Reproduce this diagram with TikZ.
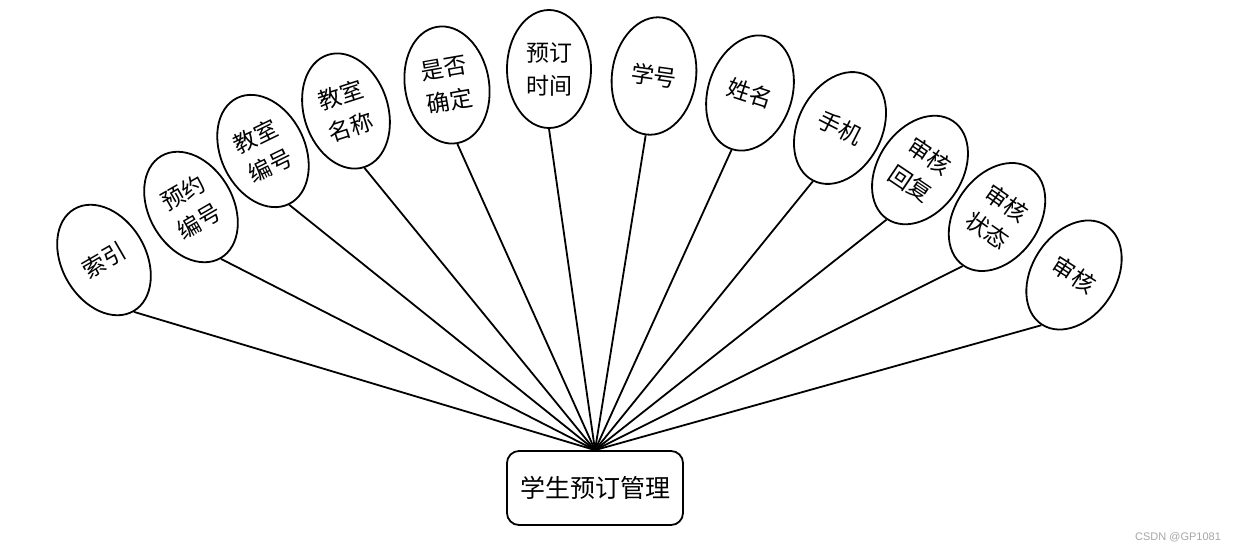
\documentclass[tikz,border=0pt]{standalone}
\usepackage{fontspec}
\setmainfont{Noto Sans CJK SC}
\newfontfamily\markfont{Liberation Sans}
\usetikzlibrary{shapes.geometric}

\begin{document}
\begin{tikzpicture}[
  x=0.5pt,
  y=-0.5pt,
  line join=round,
  attr/.style={ellipse,draw,line width=0.9pt,minimum width=42pt,minimum height=59pt,
    inner sep=0pt,align=center,font=\fontsize{11.5}{16.5}\selectfont},
  entity/.style={draw,line width=0.9pt,rounded corners=6pt,minimum width=88pt,
    minimum height=37pt,font=\fontsize{12.5}{15}\selectfont},
  link/.style={draw,line width=0.9pt}
]
  \useasboundingbox (0,0) rectangle (1236,552);

  % Central entity box.
  \node[entity] (mgmt) at (595,488) {学生预订管理};

  % Attribute ellipses fanned out above it.
  \foreach \i/\x/\y/\a/\t in {
      1/104/260/30/{索引},
      2/191/207/30/{预约\\编号},
      3/263/151/26/{教室\\编号},
      4/346/111/18/{教室\\名称},
      5/447/85/10/{是否\\确定},
      6/549/69/0/{预订\\时间},
      7/654/76/-8/{学号},
      8/750/93/-18/{姓名},
      9/840/128/-27/{手机},
      10/920/170/-34/{审核\\回复},
      11/997/217/-35/{审核\\状态},
      12/1074/275/-33/{审核}} {
    \node[attr,rotate=\a] (attr\i) at (\x,\y) {\t};
    \draw[link] (mgmt.north) -- (attr\i.south);
  }

  \node[text=black!35,font=\markfont\fontsize{5.5}{6}\selectfont] (mark) at (1178,537) {CSDN @GP1081};
\end{tikzpicture}
\end{document}
